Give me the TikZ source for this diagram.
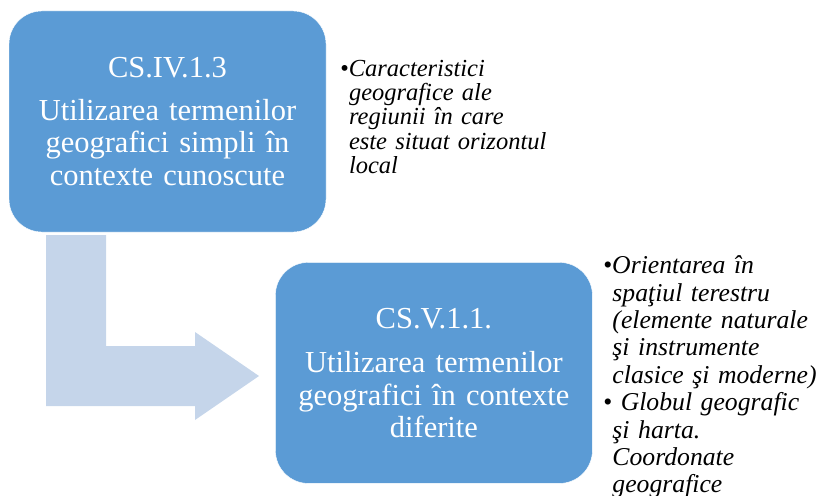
\documentclass[tikz,border=0pt]{standalone}
\usepackage{fontspec}
\setmainfont{Liberation Serif}
\usetikzlibrary{positioning}
\definecolor{boxblue}{RGB}{91,155,213}
\definecolor{arrowblue}{RGB}{197,213,234}
\newcommand{\bitem}[1]{\par\hangindent=0.36em\hangafter=1\noindent •#1\par}
\tikzset{
  csbox/.style={fill=boxblue, draw=white, thin, rounded corners=33pt,
    minimum width=317pt, minimum height=221pt, text width=310pt,
    align=center, text=white, inner sep=0pt,
    font=\fontsize{30.5}{32.5}\selectfont},
  notes/.style={anchor=north west, text width=225pt, align=left,
    inner sep=0pt, font=\itshape},
}

\begin{document}
\begin{tikzpicture}[x=1pt, y=-1pt]
      \useasboundingbox (0,0) rectangle (816,495);

      % bent arrow
      \fill[arrowblue] (46,235) -- (106,235) -- (106,346) -- (195,346)
            -- (195,332) -- (259,376) -- (195,420) -- (195,406)
            -- (46,406) -- cycle;

      \node[csbox] (cs4) at (167.5,121.5)
            {CS.IV.1.3\\[10.5pt]Utilizarea termenilor\\geografici simpli în\\contexte cunoscute};
      \node[csbox,below right=30pt and -51pt of cs4] (cs5)
            {CS.V.1.1.\\[12pt]Utilizarea termenilor\\geografici în contexte\\diferite};

      \node[notes,font=\itshape\fontsize{24.5}{24.25}\selectfont] (n4) at (340,52)
            {\bitem{Caracteristici\newline geografice ale\newline regiunii în care\newline este situat orizontul\newline local}};
      \node[notes,font=\itshape\fontsize{25.7}{27.4}\selectfont] (n5) at (603,246)
            {\bitem{Orientarea în\newline spaţiul terestru\newline (elemente naturale\newline şi instrumente\newline clasice şi moderne)}
             \bitem{ Globul geografic\newline şi harta.\newline Coordonate\newline geografice}};
    \end{tikzpicture}
\end{document}
